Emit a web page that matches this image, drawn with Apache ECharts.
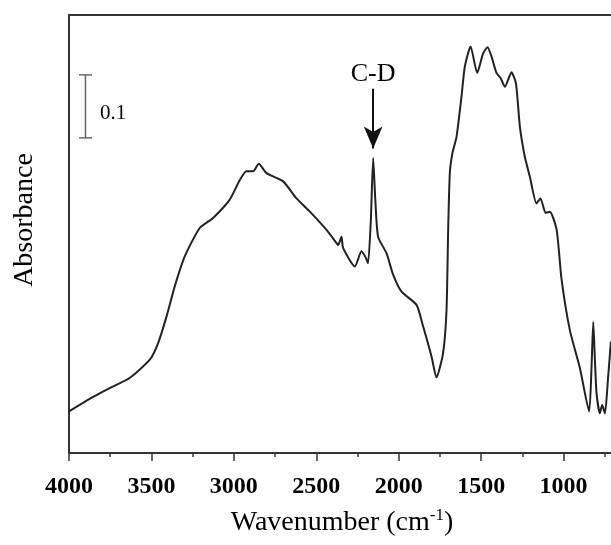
<!DOCTYPE html>
<html>
<head>
<meta charset="utf-8">
<script src="https://cdn.jsdelivr.net/npm/echarts@6/dist/echarts.min.js"></script>
<style>
html,body{margin:0;padding:0;background:#fff;}
#chart{width:611px;height:545px;}
</style>
</head>
<body>
<div id="chart"></div>
<script>
// Wavenumber (cm-1) and absorbance values
const wavenumber = [4000,3854,3753,3632,3510,3460,3409,3359,3298,3207,3126,3025,2964,2924,2883,2849,2802,2701,2620,2539,2438,2377,2368,2347,2337,2266,2226,2200,2186,2169,2155,2142,2125,2074,2034,1983,1892,1852,1801,1771,1731,1710,1700,1690,1674,1649,1619,1599,1564,1524,1488,1461,1437,1407,1382,1356,1316,1289,1265,1235,1205,1164,1140,1109,1083,1042,1012,962,901,845,831,820,810,800,780,766,749,731,713];
const absorbance = [0.066,0.089,0.103,0.119,0.148,0.174,0.216,0.264,0.312,0.357,0.373,0.402,0.433,0.447,0.447,0.459,0.444,0.431,0.404,0.383,0.354,0.333,0.330,0.343,0.325,0.296,0.320,0.310,0.301,0.370,0.468,0.402,0.343,0.317,0.283,0.256,0.235,0.201,0.153,0.120,0.158,0.227,0.354,0.444,0.476,0.502,0.566,0.613,0.645,0.603,0.634,0.644,0.629,0.603,0.595,0.581,0.604,0.587,0.518,0.470,0.439,0.396,0.404,0.381,0.383,0.354,0.275,0.195,0.135,0.066,0.132,0.208,0.148,0.095,0.063,0.076,0.063,0.116,0.177];
const xTicks = {min: 500, max: 4000, step: 500};
const yRange = {min: 0, max: 0.695};
const scaleBar = [[3900, 0.5], [3900, 0.6]];
const scaleBarLabel = '0.1';
const cdArrow = {label: 'C-D', x: 2155, yFrom: 0.578, yTo: 0.483};

const serif = '"Liberation Serif", "Times New Roman", serif';
const spectrum = wavenumber.map((w, i) => [w, absorbance[i]]);

const chart = echarts.init(document.getElementById('chart'), null, {renderer: 'canvas'});
chart.setOption({
  animation: false,
  backgroundColor: '#fff',
  grid: {left: 69, right: -35, top: 15, bottom: 92, containLabel: false, outerBoundsMode: 'none'},
  xAxis: [{
    type: 'value', inverse: true, min: xTicks.min, max: xTicks.max, interval: xTicks.step,
    position: 'bottom',
    axisLine: {show: true, onZero: false, lineStyle: {color: '#333', width: 2}},
    axisTick: {show: true, inside: false, length: 8, lineStyle: {color: '#333', width: 1.5}},
    minorTick: {show: true, splitNumber: 2, length: 4, lineStyle: {color: '#333', width: 1.5}},
    axisLabel: {show: true, color: '#000', fontSize: 24, fontWeight: 'bold', fontFamily: serif, margin: 22,
      formatter: (v) => String(v)},
    splitLine: {show: false}
  }, {
    type: 'value', inverse: true, min: xTicks.min, max: xTicks.max, position: 'top',
    axisLine: {show: true, onZero: false, lineStyle: {color: '#333', width: 2}},
    axisTick: {show: false}, axisLabel: {show: false}, splitLine: {show: false}
  }],
  yAxis: {
    type: 'value', min: yRange.min, max: yRange.max,
    axisLine: {show: true, onZero: false, lineStyle: {color: '#333', width: 2}},
    axisTick: {show: false}, axisLabel: {show: false}, splitLine: {show: false}
  },
  series: [{
    type: 'line', data: spectrum, xAxisIndex: 0, showSymbol: false, smooth: 0.2,
    lineStyle: {color: '#222', width: 2}, silent: true,
    markLine: {
      silent: true, symbol: ['none', 'arrow'], symbolSize: [14, 22],
      lineStyle: {color: '#111', width: 2, type: 'solid'},
      itemStyle: {color: '#111'},
      label: {show: true, position: 'start', formatter: cdArrow.label, color: '#000', fontSize: 26, fontFamily: serif, distance: 2},
      emphasis: {disabled: true},
      data: [[{coord: [cdArrow.x, cdArrow.yFrom]}, {coord: [cdArrow.x, cdArrow.yTo]}]]
    }
  }, {
    type: 'line', data: scaleBar, xAxisIndex: 0, showSymbol: true, symbol: 'rect', symbolSize: [13, 1.5],
    itemStyle: {color: '#666'}, lineStyle: {color: '#666', width: 1.5}, silent: true
  }],
  graphic: [{
    type: 'text', x: 100, y: 113,
    style: {text: scaleBarLabel, fill: '#000', font: '21px ' + serif, align: 'left', verticalAlign: 'middle'}
  }, {
    type: 'text', x: 342, y: 523,
    style: {
      text: 'Wavenumber (cm{sup|-1})', fill: '#000', font: '28px ' + serif, align: 'center', verticalAlign: 'middle',
      rich: {sup: {fontSize: 17, fontFamily: serif, fill: '#000', verticalAlign: 'top', padding: [0, 0, 14, 0]}}
    }
  }, {
    type: 'text', x: 25, y: 220, rotation: Math.PI / 2,
    style: {text: 'Absorbance', fill: '#000', font: '28px ' + serif, align: 'center', verticalAlign: 'middle'}
  }]
});
</script>
</body>
</html>
